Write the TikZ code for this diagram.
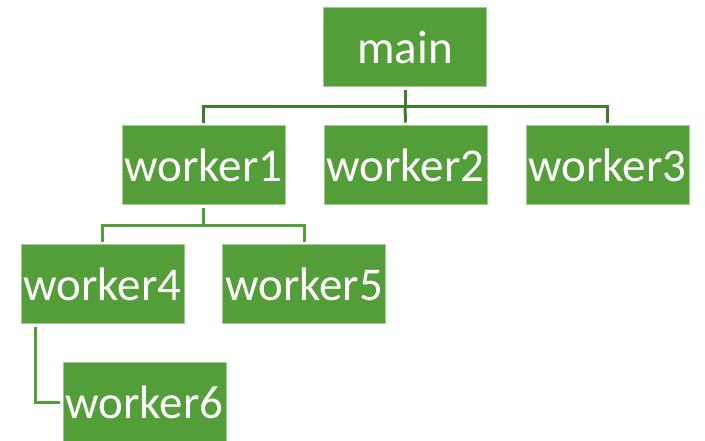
\documentclass[tikz,border=0pt]{standalone}
\usepackage{fontspec}
\setmainfont{Carlito}

\definecolor{boxgreen}{HTML}{549E39}
\definecolor{linkgreen}{HTML}{3F7D2C}

\tikzset{every picture/.style={line width=0.75pt}}

\begin{document}
\begin{tikzpicture}[x=1pt, y=1pt,
                    line cap=butt, line join=miter,
                    task/.style={fill=boxgreen, draw=boxgreen!55!white, line width=0.6pt,
                                 text=white, minimum width=163pt, minimum height=79pt,
                                 inner sep=0pt, outer sep=3pt,
                                 font=\fontsize{47}{50}\selectfont},
                    link/.style={draw=linkgreen, line width=3pt},
                    sublink/.style={draw=boxgreen, line width=3pt}]
  \useasboundingbox (0,0) rectangle (705,-440);

  % tasks
  \node[task] (main) at (405,-47)    {main};
  \node[task] (w1)   at (203.5,-165) {worker1};
  \node[task] (w2)   at (405.5,-165) {worker2};
  \node[task] (w3)   at (607.5,-165) {worker3};
  \node[task] (w4)   at (102.5,-284) {worker4};
  \node[task] (w5)   at (304,-284)   {worker5};
  \node[task] (w6)   at (144.5,-402) {worker6};

  % bus lines
  \coordinate (bus1) at (405,-106);
  \coordinate (bus2) at (203.5,-225);

  % main -> workers 1..3
  \draw[link] (main.south) -- (bus1);
  \draw[link] (w1.north) |- (bus1) -| (w3.north);
  \draw[link] (bus1) -- (w2.north);

  % worker1 -> workers 4, 5
  \draw[sublink] (w1.south) -- (bus2);
  \draw[sublink] (w4.north) |- (bus2) -| (w5.north);

  % worker4 -> worker6
  \draw[sublink] ([xshift=17pt]w4.south west) |- (w6.west);
\end{tikzpicture}
\end{document}
